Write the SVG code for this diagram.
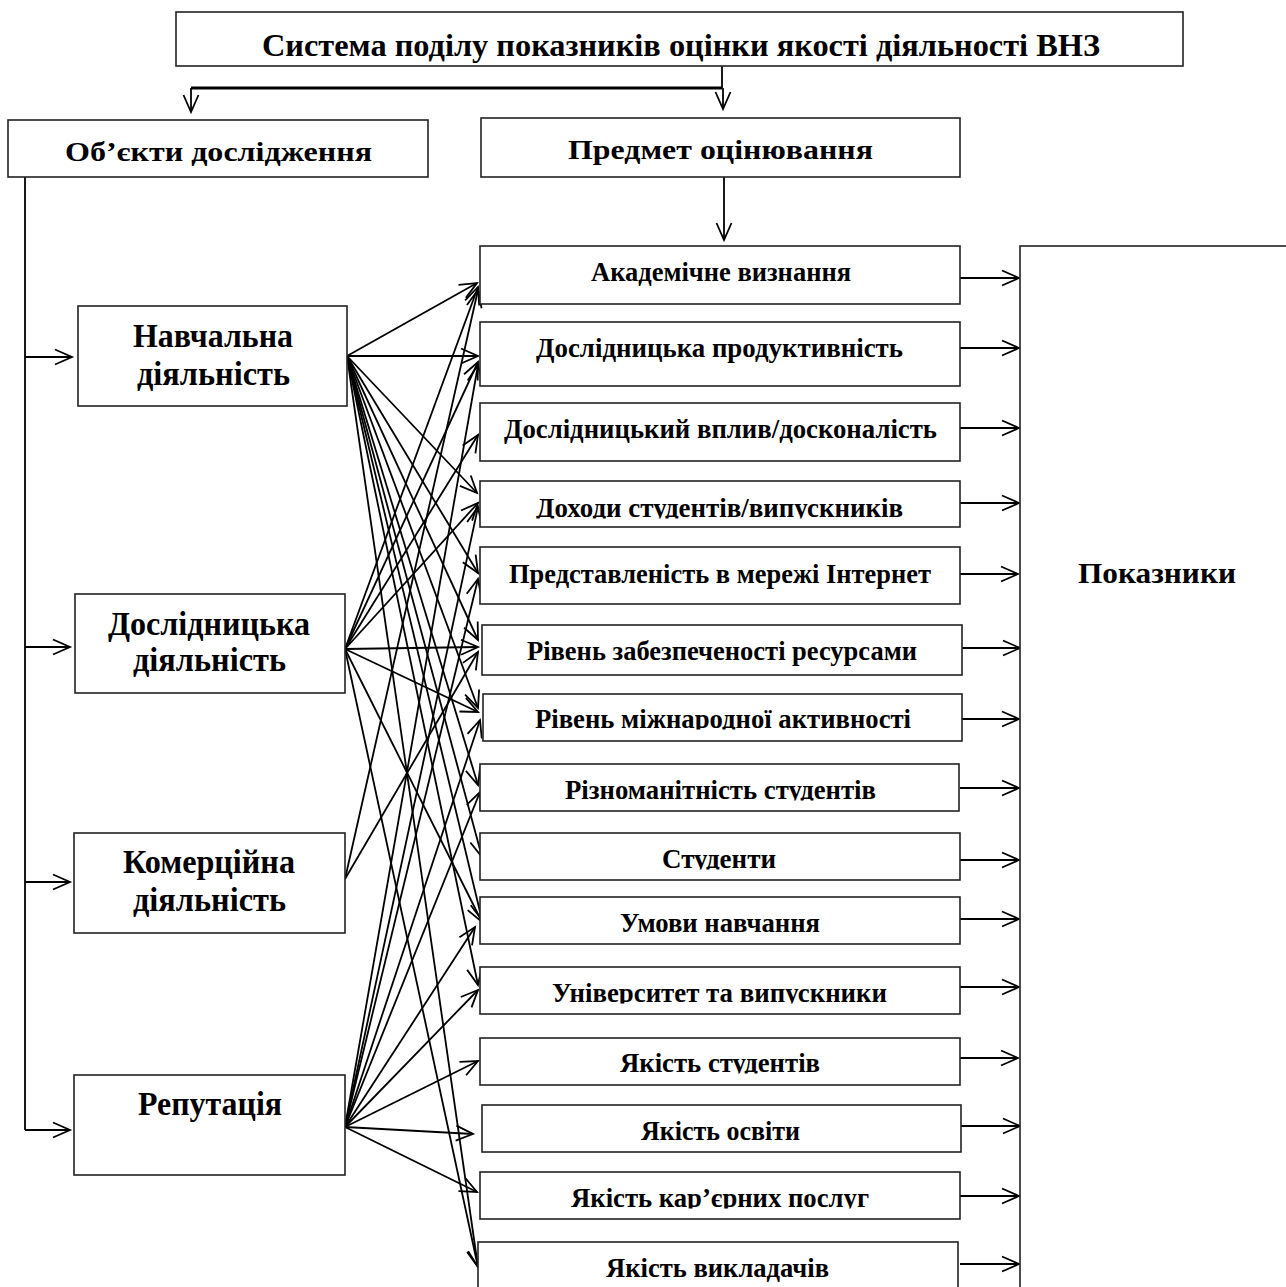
<svg xmlns="http://www.w3.org/2000/svg" width="1286" height="1287" viewBox="0 0 1286 1287">
<style>
.box{fill:#fff;stroke:#222;stroke-width:1.6}
.t{font-family:"Liberation Serif","Times New Roman",serif;font-weight:bold;fill:#000;text-anchor:middle}
.ttl{font-size:31px}
.mid{font-size:27px}
.big{font-size:33px}
.pk{font-size:29px}
.sm{font-size:27px}
.ln{fill:none;stroke:#000;stroke-width:1.8}
</style>
<defs>
<marker id="ah" markerUnits="userSpaceOnUse" markerWidth="24" markerHeight="24" viewBox="-20 -12 24 24" refX="0" refY="0" orient="auto" overflow="visible">
<path d="M-17,-7.5 L0,0 L-17,7.5" fill="none" stroke="#000" stroke-width="1.8"/>
</marker>
<clipPath id="c4"><rect x="480" y="481" width="480" height="37.5"/></clipPath>
<clipPath id="c7"><rect x="483" y="694" width="479" height="35.5"/></clipPath>
<clipPath id="c8"><rect x="480" y="764" width="479" height="36.5"/></clipPath>
<clipPath id="c9"><rect x="480" y="833" width="480" height="36.5"/></clipPath>
<clipPath id="c11"><rect x="480" y="967" width="480" height="36.5"/></clipPath>
<clipPath id="c12"><rect x="480" y="1038" width="480" height="35.5"/></clipPath>
<clipPath id="c14"><rect x="480" y="1172" width="480" height="36.5"/></clipPath>
</defs>

<g id="connectors">
<path class="ln" d="M722,66 V88"/>
<path d="M191,88 H722" fill="none" stroke="#000" stroke-width="3"/>
<path class="ln" d="M191,88 V112" marker-end="url(#ah)"/>
<path class="ln" d="M723,88 V109" marker-end="url(#ah)"/>
<path class="ln" d="M724,177 V240" marker-end="url(#ah)"/>
<path class="ln" d="M25,177 V1130"/>
<path class="ln" d="M25,357 H72" marker-end="url(#ah)"/>
<path class="ln" d="M25,647 H70" marker-end="url(#ah)"/>
<path class="ln" d="M25,882 H70" marker-end="url(#ah)"/>
<path class="ln" d="M25,1130 H70" marker-end="url(#ah)"/>
<g marker-end="url(#ah)" class="ln">
<path class="ln" d="M347,356 L477,283"/>
<path class="ln" d="M347,356 L478,356"/>
<path class="ln" d="M347,356 L477,493"/>
<path class="ln" d="M347,356 L478,573"/>
<path class="ln" d="M347,356 L478,640"/>
<path class="ln" d="M347,356 L478,708"/>
<path class="ln" d="M347,356 L478,785"/>
<path class="ln" d="M347,356 L482,857"/>
<path class="ln" d="M347,356 L482,920"/>
<path class="ln" d="M347,356 L478,985"/>
<path class="ln" d="M347,356 L478,1267"/>
</g>
<g marker-end="url(#ah)" class="ln">
<path class="ln" d="M345,649 L478,287"/>
<path class="ln" d="M345,649 L478,362"/>
<path class="ln" d="M345,649 L478,435"/>
<path class="ln" d="M345,649 L478,503"/>
<path class="ln" d="M345,649 L478,647"/>
<path class="ln" d="M345,649 L478,712"/>
<path class="ln" d="M345,649 L482,922"/>
<path class="ln" d="M345,649 L478,1267"/>
</g>
<g marker-end="url(#ah)" class="ln">
<path class="ln" d="M345,879 L478,290"/>
<path class="ln" d="M345,879 L478,652"/>
</g>
<g marker-end="url(#ah)" class="ln">
<path class="ln" d="M345,1127 L478,365"/>
<path class="ln" d="M345,1127 L478,507"/>
<path class="ln" d="M345,1127 L478,579"/>
<path class="ln" d="M345,1127 L480,720"/>
<path class="ln" d="M345,1127 L480,792"/>
<path class="ln" d="M345,1127 L475,927"/>
<path class="ln" d="M345,1127 L478,990"/>
<path class="ln" d="M345,1127 L478,1061"/>
<path class="ln" d="M345,1127 L473,1134"/>
<path class="ln" d="M345,1127 L477,1192"/>
</g>
<g marker-end="url(#ah)" class="ln">
<path class="ln" d="M960,278 H1019"/>
<path class="ln" d="M960,348 H1019"/>
<path class="ln" d="M960,428 H1019"/>
<path class="ln" d="M960,503 H1019"/>
<path class="ln" d="M958,574 H1018"/>
<path class="ln" d="M962,648 H1020"/>
<path class="ln" d="M960,719 H1019"/>
<path class="ln" d="M960,788 H1019"/>
<path class="ln" d="M960,860 H1019"/>
<path class="ln" d="M960,919 H1019"/>
<path class="ln" d="M960,987 H1019"/>
<path class="ln" d="M960,1058 H1018"/>
<path class="ln" d="M961,1126 H1020"/>
<path class="ln" d="M960,1196 H1019"/>
<path class="ln" d="M960,1264 H1019"/>
</g>
</g>

<g id="n-top"><rect class="box" x="176" y="12" width="1007" height="54"/>
<text class="t ttl" x="681" y="56" textLength="838" lengthAdjust="spacingAndGlyphs">Система поділу показників оцінки якості діяльності ВНЗ</text></g>
<g id="n-objects"><rect class="box" x="8" y="120" width="420" height="57"/>
<text class="t mid" x="218.5" y="161" textLength="307" lengthAdjust="spacingAndGlyphs">Об’єкти дослідження</text></g>
<g id="n-subject"><rect class="box" x="481" y="118" width="479" height="59"/>
<text class="t mid" x="720.5" y="159" textLength="305" lengthAdjust="spacingAndGlyphs">Предмет оцінювання</text></g>

<g id="n-navch"><rect class="box" x="78" y="306" width="269" height="100"/>
<text class="t big" x="213" y="347" textLength="160" lengthAdjust="spacingAndGlyphs">Навчальна</text>
<text class="t big" x="213.5" y="385" textLength="153" lengthAdjust="spacingAndGlyphs">діяльність</text></g>
<g id="n-doslid"><rect class="box" x="75" y="594" width="270" height="99"/>
<text class="t big" x="209" y="635" textLength="202" lengthAdjust="spacingAndGlyphs">Дослідницька</text>
<text class="t big" x="209.5" y="671" textLength="153" lengthAdjust="spacingAndGlyphs">діяльність</text></g>
<g id="n-komerc"><rect class="box" x="74" y="833" width="271" height="100"/>
<text class="t big" x="209" y="873" textLength="172" lengthAdjust="spacingAndGlyphs">Комерційна</text>
<text class="t big" x="209.5" y="911" textLength="153" lengthAdjust="spacingAndGlyphs">діяльність</text></g>
<g id="n-reput"><rect class="box" x="74" y="1075" width="271" height="100"/>
<text class="t big" x="210" y="1115" textLength="144" lengthAdjust="spacingAndGlyphs">Репутація</text></g>

<g id="n-pokaz"><rect class="box" x="1020" y="246" width="300" height="1100"/>
<text class="t pk" x="1157" y="583" textLength="158" lengthAdjust="spacingAndGlyphs">Показники</text></g>

<g id="t1"><rect class="box" x="480" y="246" width="480" height="58"/>
<text class="t sm" x="721" y="281" textLength="260" lengthAdjust="spacingAndGlyphs">Академічне визнання</text></g>
<g id="t2"><rect class="box" x="480" y="322" width="480" height="64"/>
<text class="t sm" x="719.5" y="357" textLength="367" lengthAdjust="spacingAndGlyphs">Дослідницька продуктивність</text></g>
<g id="t3"><rect class="box" x="480" y="403" width="480" height="58"/>
<text class="t sm" x="720.5" y="438" textLength="433" lengthAdjust="spacingAndGlyphs">Дослідницький вплив/досконалість</text></g>
<g id="t4"><rect class="box" x="480" y="481" width="480" height="46"/>
<text class="t sm" x="719.5" y="517" textLength="367" lengthAdjust="spacingAndGlyphs" clip-path="url(#c4)">Доходи студентів/випускників</text></g>
<g id="t5"><rect class="box" x="480" y="547" width="480" height="57"/>
<text class="t sm" x="720" y="583" textLength="422" lengthAdjust="spacingAndGlyphs">Представленість в мережі Інтернет</text></g>
<g id="t6"><rect class="box" x="482" y="625" width="480" height="50"/>
<text class="t sm" x="722" y="660" textLength="390" lengthAdjust="spacingAndGlyphs">Рівень забезпеченості ресурсами</text></g>
<g id="t7"><rect class="box" x="483" y="694" width="479" height="47"/>
<text class="t sm" x="723" y="728" textLength="376" lengthAdjust="spacingAndGlyphs" clip-path="url(#c7)">Рівень міжнародної активності</text></g>
<g id="t8"><rect class="box" x="480" y="764" width="479" height="47"/>
<text class="t sm" x="720.5" y="799" textLength="311" lengthAdjust="spacingAndGlyphs" clip-path="url(#c8)">Різноманітність студентів</text></g>
<g id="t9"><rect class="box" x="480" y="833" width="480" height="47"/>
<text class="t sm" x="719" y="868" textLength="114" lengthAdjust="spacingAndGlyphs" clip-path="url(#c9)">Студенти</text></g>
<g id="t10"><rect class="box" x="480" y="897" width="480" height="47"/>
<text class="t sm" x="720" y="932" textLength="200" lengthAdjust="spacingAndGlyphs">Умови навчання</text></g>
<g id="t11"><rect class="box" x="480" y="967" width="480" height="47"/>
<text class="t sm" x="719.5" y="1002" textLength="335" lengthAdjust="spacingAndGlyphs" clip-path="url(#c11)">Університет та випускники</text></g>
<g id="t12"><rect class="box" x="480" y="1038" width="480" height="47"/>
<text class="t sm" x="720" y="1072" textLength="200" lengthAdjust="spacingAndGlyphs" clip-path="url(#c12)">Якість студентів</text></g>
<g id="t13"><rect class="box" x="482" y="1105" width="479" height="47"/>
<text class="t sm" x="720.5" y="1140" textLength="159" lengthAdjust="spacingAndGlyphs">Якість освіти</text></g>
<g id="t14"><rect class="box" x="480" y="1172" width="480" height="47"/>
<text class="t sm" x="720" y="1207" textLength="298" lengthAdjust="spacingAndGlyphs" clip-path="url(#c14)">Якість кар’єрних послуг</text></g>
<g id="t15"><rect class="box" x="478" y="1242" width="480" height="60"/>
<text class="t sm" x="717.5" y="1277" textLength="223" lengthAdjust="spacingAndGlyphs">Якість викладачів</text></g>
</svg>
